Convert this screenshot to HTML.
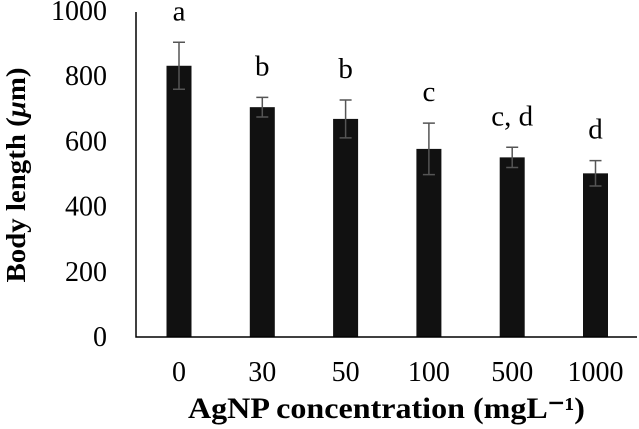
<!DOCTYPE html>
<html><head><meta charset="utf-8"><style>
html,body{margin:0;padding:0;background:#fff;}
svg{display:block;font-family:"Liberation Serif",serif;}
</style></head><body>
<svg id="chart" width="639" height="429">
<text transform="translate(25,175) rotate(-90)" text-anchor="middle" font-size="27" font-weight="bold" textLength="215" lengthAdjust="spacingAndGlyphs">Body length (<tspan font-style="italic">μ</tspan>m)</text>
<text x="188" y="418" font-size="30" font-weight="bold" textLength="397" lengthAdjust="spacingAndGlyphs">AgNP concentration (mgL⁻¹)</text>
<g id="plot"></g>
</svg>
<script>
const categories = ["0","30","50","100","500","1000"];
const values = [832,705,669,577,551,502];
const errors = [72,30,58,79,31,39];
const letters = ["a","b","b","c","c, d","d"];
const yTicks = [0,200,400,600,800,1000];

const ns = "http://www.w3.org/2000/svg";
const g = document.getElementById("plot");
const x0 = 179, step = 83.3, barW = 25;
function xPos(i){ return x0 + i*step; }
function yPos(v){ return 337 - v*0.326; }
function mk(tag, attrs){ const e=document.createElementNS(ns,tag); for(const k in attrs) e.setAttribute(k,attrs[k]); g.appendChild(e); return e; }

yTicks.forEach(t=>{
  const e = mk("text",{x:107,y:yPos(t)+9,"text-anchor":"end","font-size":"28"});
  e.textContent = t;
  
  
});
categories.forEach((c,i)=>{
  const cx = xPos(i);
  const b = mk("rect",{x:cx-barW/2,y:yPos(values[i]),width:barW,height:yPos(0)-yPos(values[i]),fill:"#111"});
  
  
  const top = yPos(values[i]+errors[i]), bot = yPos(values[i]-errors[i]);
  const eb = mk("path",{d:`M${cx},${top}V${bot}M${cx-6},${top}H${cx+6}M${cx-6},${bot}H${cx+6}`,stroke:"#555","stroke-width":"1.5",fill:"none"});
  
  
  const l = mk("text",{x:cx,y:top-22,"text-anchor":"middle","font-size":"29"});
  l.textContent = letters[i];
  
  
  const xl = mk("text",{x:cx,y:381,"text-anchor":"middle","font-size":"28"});
  xl.textContent = c;
  
  
});
const ax = mk("path",{d:`M136,12V337H637`,stroke:"#000","stroke-width":"1.5",fill:"none"});


</script>
</body></html>
